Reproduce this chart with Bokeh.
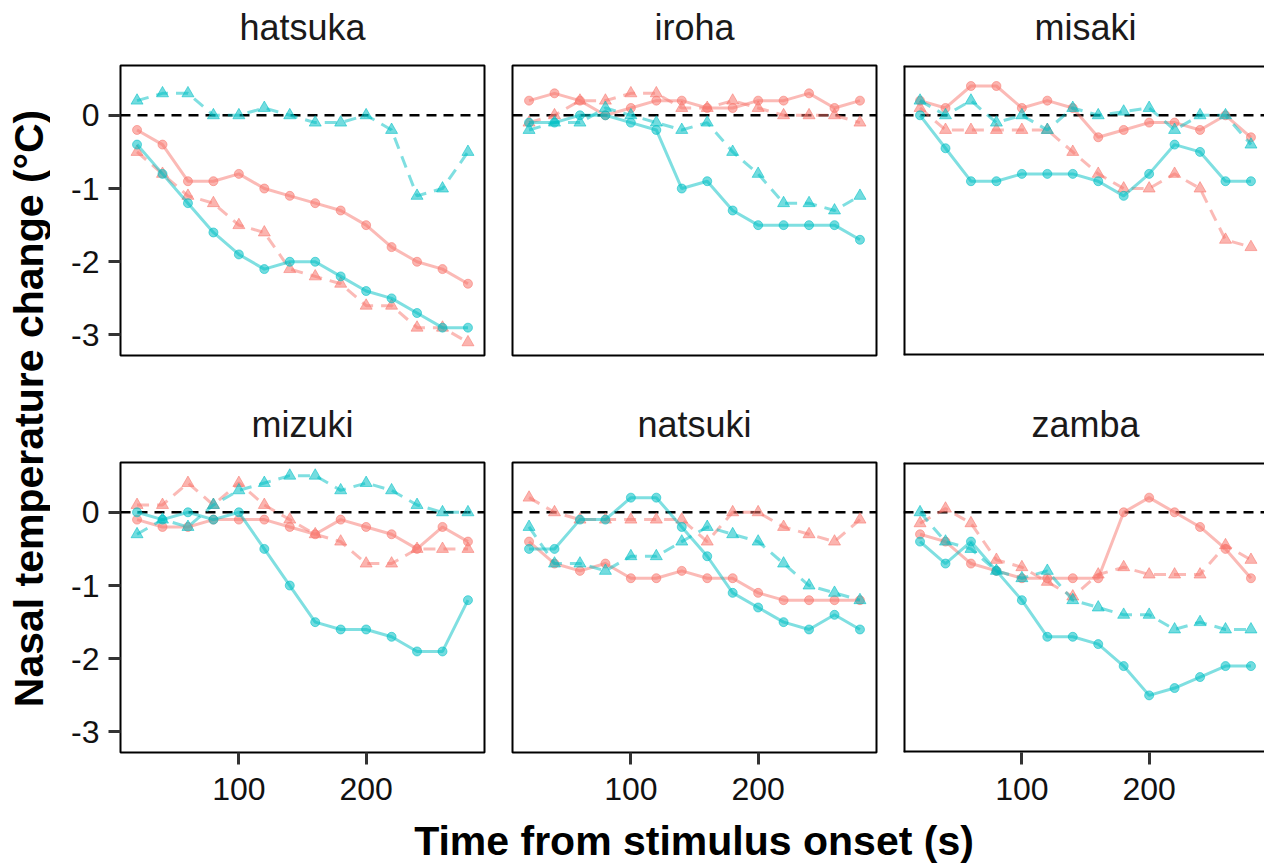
import math
from bokeh.plotting import figure
from bokeh.layouts import row, column
from bokeh.models import Range1d, FixedTicker, Span
from bokeh.embed import file_html
from bokeh.resources import INLINE
from bokeh.core.properties import value

# ---------------- data ----------------
time_s = [20, 40, 60, 80, 100, 120, 140, 160, 180, 200, 220, 240, 260, 280]

animals = ["hatsuka", "iroha", "misaki", "mizuki", "natsuki", "zamba"]

# red = first condition, cyan = second condition; circles/solid and triangles/dashed
hatsuka_red_circle = [-0.2, -0.4, -0.9, -0.9, -0.8, -1.0, -1.1, -1.2, -1.3, -1.5, -1.8, -2.0, -2.1, -2.3]
hatsuka_red_triangle = [-0.5, -0.8, -1.1, -1.2, -1.5, -1.6, -2.1, -2.2, -2.3, -2.6, -2.6, -2.9, -2.9, -3.1]
hatsuka_cyan_circle = [-0.4, -0.8, -1.2, -1.6, -1.9, -2.1, -2.0, -2.0, -2.2, -2.4, -2.5, -2.7, -2.9, -2.9]
hatsuka_cyan_triangle = [0.2, 0.3, 0.3, 0.0, 0.0, 0.1, 0.0, -0.1, -0.1, 0.0, -0.2, -1.1, -1.0, -0.5]

iroha_red_circle = [0.2, 0.3, 0.2, 0.0, 0.1, 0.2, 0.2, 0.1, 0.1, 0.2, 0.2, 0.3, 0.1, 0.2]
iroha_red_triangle = [-0.1, 0.0, 0.2, 0.2, 0.3, 0.3, 0.1, 0.1, 0.2, 0.1, 0.0, 0.0, 0.0, -0.1]
iroha_cyan_circle = [-0.1, -0.1, 0.0, 0.0, -0.1, -0.2, -1.0, -0.9, -1.3, -1.5, -1.5, -1.5, -1.5, -1.7]
iroha_cyan_triangle = [-0.2, -0.1, -0.1, 0.1, 0.0, -0.1, -0.2, -0.1, -0.5, -0.8, -1.2, -1.2, -1.3, -1.1]

misaki_red_circle = [0.2, 0.1, 0.4, 0.4, 0.1, 0.2, 0.1, -0.3, -0.2, -0.1, -0.1, -0.2, 0.0, -0.3]
misaki_red_triangle = [0.1, -0.2, -0.2, -0.2, -0.2, -0.2, -0.5, -0.8, -1.0, -1.0, -0.8, -1.0, -1.7, -1.8]
misaki_cyan_circle = [0.0, -0.45, -0.9, -0.9, -0.8, -0.8, -0.8, -0.9, -1.1, -0.8, -0.4, -0.5, -0.9, -0.9]
misaki_cyan_triangle = [0.2, 0.0, 0.2, -0.1, 0.0, -0.2, 0.1, 0.0, 0.05, 0.1, -0.2, 0.0, 0.0, -0.4]

mizuki_red_circle = [-0.1, -0.2, -0.2, -0.1, -0.1, -0.1, -0.2, -0.3, -0.1, -0.2, -0.3, -0.5, -0.2, -0.4]
mizuki_red_triangle = [0.1, 0.1, 0.4, 0.1, 0.4, 0.1, -0.1, -0.3, -0.4, -0.7, -0.7, -0.5, -0.5, -0.5]
mizuki_cyan_circle = [0.0, -0.1, 0.0, -0.1, 0.0, -0.5, -1.0, -1.5, -1.6, -1.6, -1.7, -1.9, -1.9, -1.2]
mizuki_cyan_triangle = [-0.3, -0.1, -0.2, 0.1, 0.3, 0.4, 0.5, 0.5, 0.3, 0.4, 0.3, 0.1, 0.0, 0.0]

natsuki_red_circle = [-0.4, -0.7, -0.8, -0.7, -0.9, -0.9, -0.8, -0.9, -0.9, -1.1, -1.2, -1.2, -1.2, -1.2]
natsuki_red_triangle = [0.2, 0.0, -0.1, -0.1, -0.1, -0.1, -0.1, -0.4, 0.0, 0.0, -0.2, -0.3, -0.4, -0.1]
natsuki_cyan_circle = [-0.5, -0.5, -0.1, -0.1, 0.2, 0.2, -0.2, -0.6, -1.1, -1.3, -1.5, -1.6, -1.4, -1.6]
natsuki_cyan_triangle = [-0.2, -0.7, -0.7, -0.8, -0.6, -0.6, -0.4, -0.2, -0.3, -0.4, -0.7, -1.0, -1.1, -1.2]

zamba_red_circle = [-0.3, -0.4, -0.7, -0.8, -0.9, -0.9, -0.9, -0.9, 0.0, 0.2, 0.0, -0.2, -0.5, -0.9]
zamba_red_triangle = [-0.15, 0.05, -0.15, -0.65, -0.75, -0.95, -1.15, -0.85, -0.75, -0.85, -0.85, -0.85, -0.45, -0.65]
zamba_cyan_circle = [-0.4, -0.7, -0.4, -0.8, -1.2, -1.7, -1.7, -1.8, -2.1, -2.5, -2.4, -2.25, -2.1, -2.1]
zamba_cyan_triangle = [0.0, -0.4, -0.5, -0.8, -0.9, -0.8, -1.2, -1.3, -1.4, -1.4, -1.6, -1.5, -1.6, -1.6]

series = {
    "hatsuka": (hatsuka_red_circle, hatsuka_red_triangle, hatsuka_cyan_circle, hatsuka_cyan_triangle),
    "iroha": (iroha_red_circle, iroha_red_triangle, iroha_cyan_circle, iroha_cyan_triangle),
    "misaki": (misaki_red_circle, misaki_red_triangle, misaki_cyan_circle, misaki_cyan_triangle),
    "mizuki": (mizuki_red_circle, mizuki_red_triangle, mizuki_cyan_circle, mizuki_cyan_triangle),
    "natsuki": (natsuki_red_circle, natsuki_red_triangle, natsuki_cyan_circle, natsuki_cyan_triangle),
    "zamba": (zamba_red_circle, zamba_red_triangle, zamba_cyan_circle, zamba_cyan_triangle),
}

x_ticks = [100, 200]
y_ticks = [-3, -2, -1, 0]
x_title = "Time from stimulus onset (s)"
y_title = "Nasal temperature change (°C)"

# ---------------- style ----------------
FONT = "Liberation Sans"
RED = "#F8766D"
CYAN = "#00BFC4"
X_LO, X_HI = 7, 293
Y_LO, Y_HI = -3.28, 0.68
FRAME_W, FRAME_H = 364, 290
BORDER_L = [70, 14, 13]
BORDER_R = [14, 14, 0]
COL_W = [BORDER_L[c] + (FRAME_W if c < 2 else 361) + BORDER_R[c] for c in range(3)]


def blank_fig(w, h):
    f = figure(width=w, height=h, x_range=Range1d(0, w), y_range=Range1d(0, h),
               output_backend="svg", toolbar_location=None,
               x_axis_location=None, y_axis_location=None,
               min_border_left=0, min_border_right=0, min_border_top=0, min_border_bottom=0)
    f.grid.visible = False
    f.outline_line_color = None
    f.background_fill_color = "white"
    f.border_fill_color = "white"
    return f


def make_strip(name, col, h):
    s = blank_fig(COL_W[col], h)
    s.text(x=[BORDER_L[col] + FRAME_W / 2], y=[35.6], text=[name],
           text_font=value(FONT), text_font_size="36px", text_color="#1A1A1A",
           text_align="center", text_baseline="middle")
    return s


def make_panel(name, col, rw):
    fw = FRAME_W if col < 2 else 361
    x_hi = X_HI if col < 2 else X_LO + (X_HI - X_LO) * fw / FRAME_W
    p = figure(
        frame_width=fw, frame_height=FRAME_H,
        x_range=Range1d(X_LO, x_hi), y_range=Range1d(Y_LO, Y_HI),
        output_backend="svg", toolbar_location=None,
        min_border_left=BORDER_L[col], min_border_right=BORDER_R[col],
        min_border_top=2, min_border_bottom=[2, 60][rw],
    )
    p.grid.visible = False
    p.background_fill_color = "white"
    p.border_fill_color = "white"
    if col < 2:
        p.outline_line_color = "black"
        p.outline_line_width = 2
        p.outline_line_alpha = 1
    else:
        p.outline_line_color = None
        for loc, dim in ((X_LO, "height"), (Y_LO, "width"), (Y_HI, "width")):
            p.add_layout(Span(location=loc, dimension=dim, line_color="black", line_width=4))

    for ax in (p.xaxis[0], p.yaxis[0]):
        ax.axis_line_color = None
        ax.major_tick_line_color = "#333333"
        ax.major_tick_line_width = 3
        ax.major_tick_in = 0
        ax.major_tick_out = 12
        ax.minor_tick_line_color = None
        ax.major_label_text_font = FONT
        ax.major_label_text_font_size = "32px"
        ax.major_label_text_color = "#111111"
    p.xaxis.ticker = FixedTicker(ticks=x_ticks)
    p.yaxis.ticker = FixedTicker(ticks=y_ticks)
    p.yaxis.major_label_overrides = {t: str(t) for t in y_ticks}
    p.xaxis.major_label_standoff = 13
    p.yaxis.major_label_standoff = 9
    p.xaxis.visible = (rw == 1)
    p.yaxis.visible = (col == 0)

    p.add_layout(Span(location=0, dimension="width", line_color="black",
                      line_width=2.5, line_dash="10 7", level="underlay"))

    rc, rt, cc, ct = series[name]
    for vals, color, dash, marker, size in (
        (rc, RED, "solid", "circle", 9),
        (rt, RED, "12 8", "triangle", 12),
        (cc, CYAN, "solid", "circle", 9),
        (ct, CYAN, "12 8", "triangle", 12),
    ):
        p.line(time_s, vals, line_color=color, line_width=3, line_alpha=0.5, line_dash=dash)
        p.scatter(time_s, vals, marker=marker, size=size, fill_color=color, line_color=color,
                  fill_alpha=0.55, line_alpha=0.55)
    return p


panels = [make_panel(n, i % 3, i // 3) for i, n in enumerate(animals)]
strips = [make_strip(n, i % 3, [63, 103][i // 3]) for i, n in enumerate(animals)]

# y-axis title column
ylab = blank_fig(50, 812)
ylab.text(x=[28], y=[404], text=[y_title], angle=math.pi / 2,
          text_font=value(FONT), text_font_style="bold", text_font_size="41px",
          text_align="center", text_baseline="middle", text_color="black")

# x-axis title row
xlab = blank_fig(1264, 54)
xlab.text(x=[693.5], y=[25.5], text=[x_title],
          text_font=value(FONT), text_font_style="bold", text_font_size="41px",
          text_align="center", text_baseline="middle", text_color="black")

grid = column(
    row(strips[0], strips[1], strips[2]),
    row(panels[0], panels[1], panels[2]),
    row(strips[3], strips[4], strips[5]),
    row(panels[3], panels[4], panels[5]),
)
layout = column(row(ylab, grid), xlab)

open("out.html", "w").write(file_html(layout, INLINE))
